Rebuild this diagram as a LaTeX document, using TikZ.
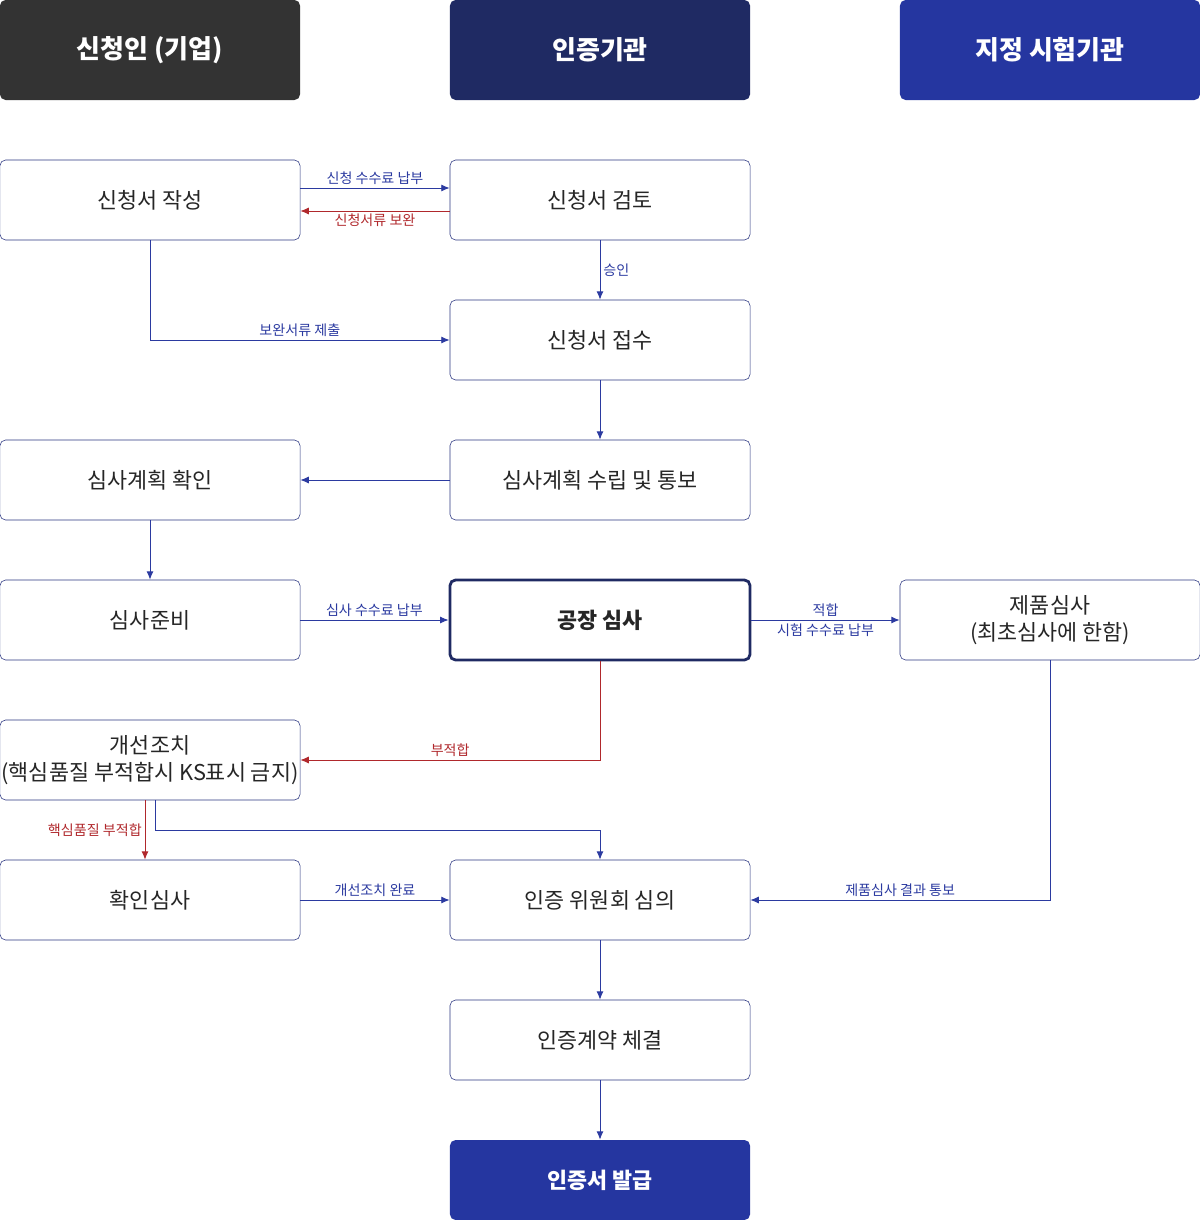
\documentclass[tikz,border=0pt]{standalone}
\usepackage{fontspec}
\setmainfont{Noto Sans CJK KR}
\usetikzlibrary{arrows.meta}
\definecolor{hdgray}{HTML}{333333}
\definecolor{hdnavy}{HTML}{1F2A63}
\definecolor{hdblue}{HTML}{2536A0}
\definecolor{lnblue}{HTML}{2B3AA0}
\definecolor{lnred}{HTML}{B0282C}
\definecolor{bxline}{HTML}{2A3580}
\tikzset{
  head/.style={rounded corners=4pt,minimum width=7.5cm,minimum height=2.5cm,text=white,font=\fontsize{18.5}{20}\selectfont\bfseries,inner sep=0pt},
  stage/.style={draw=bxline,rounded corners=4pt,minimum width=7.5cm,minimum height=2cm,font=\fontsize{15.5}{19}\selectfont,align=center,text=black!85,inner sep=0pt},
  flow/.style={draw=lnblue,-{Latex[length=6pt,width=5pt]},line width=0.7pt},
  back/.style={draw=lnred,-{Latex[length=6pt,width=5pt]},line width=0.7pt},
  lbl/.style={font=\fontsize{10}{12}\selectfont,text=lnblue,inner sep=2pt},
  rlbl/.style={font=\fontsize{10}{12}\selectfont,text=lnred,inner sep=2pt}
}
\begin{document}
\begin{tikzpicture}[x=0.025cm,y=-0.025cm]
\useasboundingbox (0,0) rectangle (1200,1220);
% headers
\node[head,fill=hdgray] (hA) at (150,50) {신청인 (기업)};
\node[head,fill=hdnavy] (hB) at (600,50) {인증기관};
\node[head,fill=hdblue] (hC) at (1050,50) {지정 시험기관};
% stages
\node[stage] (write) at (150,200) {신청서 작성};
\node[stage] (review) at (600,200) {신청서 검토};
\node[stage] (accept) at (600,340) {신청서 접수};
\node[stage] (plan) at (600,480) {심사계획 수립 및 통보};
\node[stage] (check) at (150,480) {심사계획 확인};
\node[stage] (prep) at (150,620) {심사준비};
\node[stage,draw=hdnavy,line width=2pt,font=\fontsize{15.5}{19}\selectfont\bfseries] (audit) at (600,620) {공장 심사};
\node[stage] (prod) at (1050,620) {제품심사\\(최초심사에 한함)};
\node[stage] (fix) at (150,760) {개선조치\\(핵심품질 부적합시 KS표시 금지)};
\node[stage] (reaudit) at (150,900) {확인심사};
\node[stage] (comm) at (600,900) {인증 위원회 심의};
\node[stage] (contract) at (600,1040) {인증계약 체결};
\node[head,fill=hdblue,minimum height=2cm,font=\fontsize{15.5}{19}\selectfont\bfseries] (issue) at (600,1180) {인증서 발급};
% connectors
\draw[flow] (write.east|-0,188) -- node[lbl,above] {신청 수수료 납부} (review.west|-0,188);
\draw[back] (review.west|-0,211) -- node[rlbl,below] {신청서류 보완} (write.east|-0,211);
\draw[flow] (review) -- node[lbl,right] {승인} (accept);
\draw[flow] (write.south) |- node[lbl,above,pos=0.75] {보완서류 제출} (accept.west);
\draw[flow] (accept) -- (plan);
\draw[flow] (plan) -- (check);
\draw[flow] (check) -- (prep);
\draw[flow] (prep) -- node[lbl,above] {심사 수수료 납부} (audit);
\draw[flow] (audit) -- node[lbl,above] {적합} node[lbl,below] {시험 수수료 납부} (prod);
\draw[back] (audit.south) |- node[rlbl,above,pos=0.75] {부적합} (fix.east);
\draw[back] (fix.south-|145,0) -- node[rlbl,left] {핵심품질 부적합} (reaudit.north-|145,0);
\draw[flow] (fix.south-|155,0) -- (155,830) -| (comm.north);
\draw[flow] (reaudit) -- node[lbl,above] {개선조치 완료} (comm);
\draw[flow] (prod.south) |- node[lbl,above,pos=0.75] {제품심사 결과 통보} (comm.east);
\draw[flow] (comm) -- (contract);
\draw[flow] (contract) -- (issue);
\end{tikzpicture}
\end{document}
